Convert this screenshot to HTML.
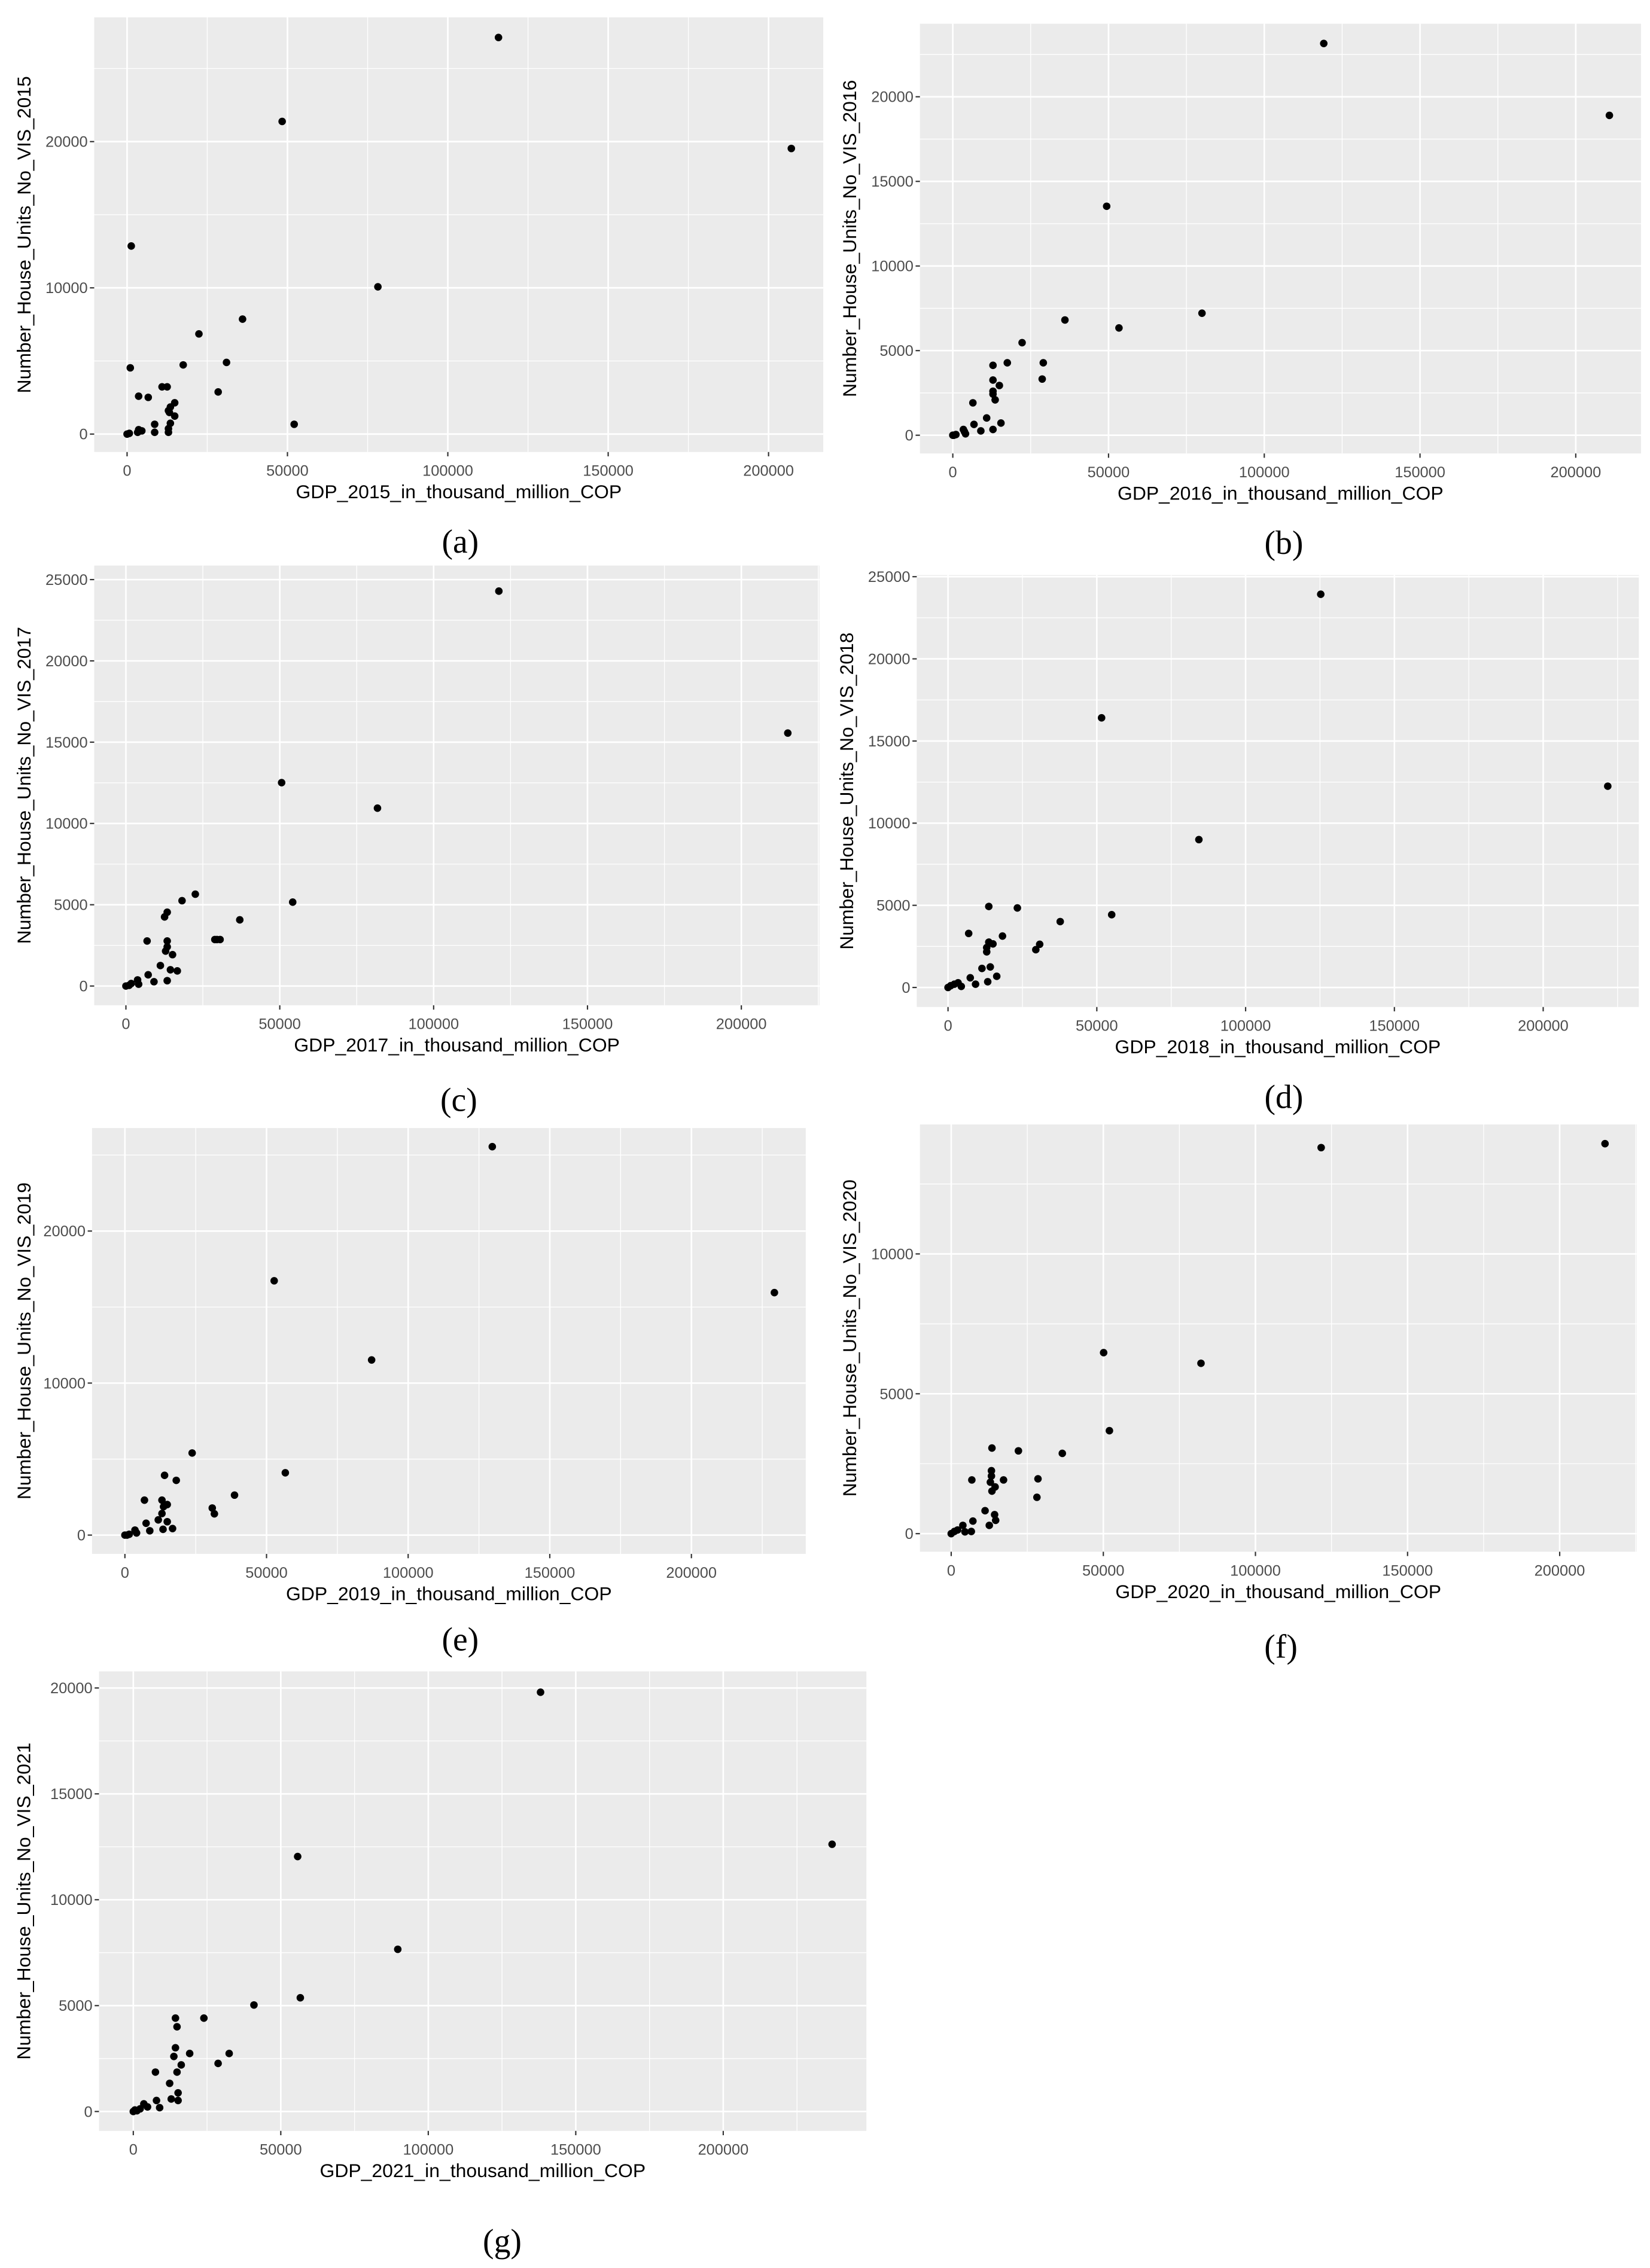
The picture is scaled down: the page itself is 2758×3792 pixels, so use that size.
<!DOCTYPE html>
<html><head><meta charset="utf-8"><style>
html,body{margin:0;padding:0;background:#fff;}
svg{display:block;}
</style></head><body>
<svg id="fig" width="2758" height="3792" viewBox="0 0 1140 1568" preserveAspectRatio="none" xmlns="http://www.w3.org/2000/svg"></svg>
<script>
// ---- data ----
const gdp2015=[115800,48350,207100,1300,78200,36000,22400,31000,17500,1000,28400,10900,12500,3600,6600,14850,13500,12900,13200,14850,13500,8600,52100,12900,12900,3600,4600,8600,0,700,3300];
const units2015=[27120,21380,19530,12860,10070,7860,6850,4900,4730,4530,2880,3230,3230,2590,2510,2140,1850,1600,1480,1230,740,670,670,370,120,300,220,120,0,50,120];
const gdp2016=[119100,210800,49400,80000,36000,53350,22250,29050,17500,12900,28700,12900,14950,12900,12900,13600,6450,10870,6800,15460,12900,9000,3400,4080,3740,0,1000,340];
const units2016=[23150,18900,13530,7210,6810,6340,5470,4280,4280,4130,3320,3260,2940,2600,2430,2090,1915,1020,640,720,340,255,340,85,210,0,40,0];
const gdp2017=[121200,215100,50600,81750,54200,22550,18240,13420,12560,37000,29600,28900,30600,6880,13420,13420,12900,15150,11200,7230,14460,16700,13420,9120,3790,4130,1720,0,1030];
const units2017=[24290,15560,12510,10940,5160,5650,5250,4540,4250,4070,2860,2860,2860,2770,2770,2410,2150,1930,1260,690,1000,930,330,265,376,110,155,0,44];
const gdp2018=[125250,221700,51600,84300,55000,37700,23300,13700,18300,6940,30800,29500,13700,15100,13000,13000,11400,14200,16370,7470,13340,9250,3380,2130,4450,0,890];
const units2018=[23930,12250,16410,9000,4430,4010,4840,4930,3130,3290,2630,2300,2760,2650,2430,2170,1160,1250,680,590,350,200,285,200,65,0,110];
const gdp2019=[129700,229300,52700,87100,23740,56630,14000,18130,38700,6900,13080,14950,13640,13080,30840,31590,11780,14950,7480,16820,13460,8780,3550,4110,1500,0,750];
const units2019=[25550,15950,16730,11520,5400,4100,3930,3600,2630,2300,2300,2010,1870,1420,1780,1400,1000,880,780,430,380,285,330,140,50,0,0];
const gdp2020=[121600,214900,50100,82100,52000,13390,22090,36520,13220,13220,12870,13390,14430,17200,6780,28520,28170,11130,14260,14610,7130,12520,3830,6610,2090,4520,0,1040];
const units2020=[13800,13940,6470,6090,3680,3060,2960,2870,2250,2060,1840,1520,1670,1920,1920,1960,1300,820,680,476,450,296,296,77,130,64,0,77];
const gdp2021=[138060,236900,55720,89660,56620,40900,23930,14290,14820,14290,19110,32500,13750,16250,28750,7500,14820,12320,15180,15180,12860,7860,3570,4820,2320,8930,540,0,1250];
const units2021=[19800,12620,12040,7660,5370,5030,4410,4410,4000,3010,2740,2740,2600,2200,2270,1860,1860,1330,880,520,590,520,360,216,126,180,72,0,36];
const xTickLabels=["0","50000","100000","150000","200000"];
const xTickValues=[0,50000,100000,150000,200000];
const yTickValues2015=[0,10000,20000];
const yTickValues2016=[0,5000,10000,15000,20000];
const yTickValues2017=[0,5000,10000,15000,20000,25000];
const yTickValues2018=[0,5000,10000,15000,20000,25000];
const yTickValues2019=[0,10000,20000];
const yTickValues2020=[0,5000,10000];
const yTickValues2021=[0,5000,10000,15000,20000];

// ---- layout (pixel geometry, not data) ----
const panels=[
 {id:'a',year:2015,xs:gdp2015,ys:units2015,yt:yTickValues2015,L:65.1,R:568.8,T:12,B:312.5,x0:87.8,xk:110.8/50000,y0:300.1,yk:101.1/10000,capX:318,capY:382,titleX:16.5},
 {id:'b',year:2016,xs:gdp2016,ys:units2016,yt:yTickValues2016,L:635.6,R:1133.8,T:16.4,B:313.5,x0:658.3,xk:107.6/50000,y0:300.9,yk:58.5/5000,capX:887,capY:383,titleX:587},
 {id:'c',year:2017,xs:gdp2017,ys:units2017,yt:yTickValues2017,L:65.1,R:566.2,T:391,B:695,x0:87,xk:106.3/50000,y0:681.7,yk:56.2/5000,capX:317,capY:768,titleX:16.5},
 {id:'d',year:2018,xs:gdp2018,ys:units2018,yt:yTickValues2018,L:633.4,R:1132.3,T:397.6,B:696.2,x0:655,xk:102.8/50000,y0:682.7,yk:56.8/5000,capX:887,capY:766,titleX:585},
 {id:'e',year:2019,xs:gdp2019,ys:units2019,yt:yTickValues2019,L:63.6,R:556.7,T:779.9,B:1074.3,x0:86.3,xk:97.85/50000,y0:1061.3,yk:105.1/10000,capX:318,capY:1141,titleX:16.5},
 {id:'f',year:2020,xs:gdp2020,ys:units2020,yt:yTickValues2020,L:635.6,R:1130.8,T:777.4,B:1072.8,x0:657.2,xk:105.1/50000,y0:1060.3,yk:96.7/5000,capX:885,capY:1146,titleX:587},
 {id:'g',year:2021,xs:gdp2021,ys:units2021,yt:yTickValues2021,L:68.4,R:598.6,T:1155.5,B:1473.2,x0:92.1,xk:101.9/50000,y0:1459.8,yk:73.2/5000,capX:347,capY:1557,titleX:16.4}
];
const NS='http://www.w3.org/2000/svg';
const svg=document.getElementById('fig');
function mk(tag,attrs,parent){const e=document.createElementNS(NS,tag);for(const k in attrs)e.setAttribute(k,attrs[k]);parent.appendChild(e);return e;}

panels.forEach(p=>{
  const xPix=v=>p.x0+v*p.xk;
  const yPix=v=>p.y0-v*p.yk;
  const g=mk('g',{},svg);
  
  
  const bg=mk('rect',{x:p.L,y:p.T,width:p.R-p.L,height:p.B-p.T,fill:'#EBEBEB'},g);
  
  
  const xstep=xTickValues[1]-xTickValues[0];
  for(let v=-xstep/2;v<=400000;v+=xstep/2){
    const px=xPix(v); if(px<p.L||px>p.R) continue;
    const major=Math.abs((v/xstep)-Math.round(v/xstep))<1e-6;
    const ln=mk('line',{x1:px,x2:px,y1:p.T,y2:p.B,stroke:'#fff','stroke-width':major?1.1:0.55},g);
    
    
  }
  const ystep=p.yt[1]-p.yt[0];
  for(let v=-ystep/2;v<=60000;v+=ystep/2){
    const py=yPix(v); if(py<p.T||py>p.B) continue;
    const major=Math.abs((v/ystep)-Math.round(v/ystep))<1e-6;
    const ln=mk('line',{x1:p.L,x2:p.R,y1:py,y2:py,stroke:'#fff','stroke-width':major?1.1:0.55},g);
    
    
  }
  xTickValues.forEach((v,i)=>{
    const px=xPix(v);
    const t=mk('line',{x1:px,x2:px,y1:p.B,y2:p.B+3,stroke:'#333','stroke-width':0.9},g);
    
    
    const tx=mk('text',{x:px,y:p.B+16.5,'text-anchor':'middle','font-size':10.5,fill:'#4D4D4D','font-family':'Liberation Sans, Arial, sans-serif'},g);
    tx.textContent=xTickLabels[i];
    
    
  });
  p.yt.forEach(v=>{
    const py=yPix(v);
    const t=mk('line',{x1:p.L-3,x2:p.L,y1:py,y2:py,stroke:'#333','stroke-width':0.9},g);
    
    
    const tx=mk('text',{x:p.L-4.5,y:py+3.7,'text-anchor':'end','font-size':10.5,fill:'#4D4D4D','font-family':'Liberation Sans, Arial, sans-serif'},g);
    tx.textContent=String(v);
    
    
  });
  const xt=mk('text',{x:(p.L+p.R)/2,y:p.B+32,'text-anchor':'middle','font-size':13.2,fill:'#000','font-family':'Liberation Sans, Arial, sans-serif'},g);
  xt.textContent='GDP_'+p.year+'_in_thousand_million_COP';
  
  
  const cy=(p.T+p.B)/2;
  const yt=mk('text',{x:p.titleX+4.5,y:cy,'text-anchor':'middle','font-size':13.2,fill:'#000','font-family':'Liberation Sans, Arial, sans-serif',transform:'rotate(-90 '+(p.titleX+4.5)+' '+cy+')'},g);
  yt.textContent='Number_House_Units_No_VIS_'+p.year;
  
  
  p.xs.forEach((xv,i)=>{
    const c=mk('circle',{cx:xPix(xv),cy:yPix(p.ys[i]),r:2.6,fill:'#000'},g);
    
    
  });
  const cap=mk('text',{x:p.capX,y:p.capY,'text-anchor':'middle','font-size':23,fill:'#000','font-family':'Liberation Serif, Times New Roman, serif'},g);
  cap.textContent='('+p.id+')';
  
  
});
</script>
</body></html>
